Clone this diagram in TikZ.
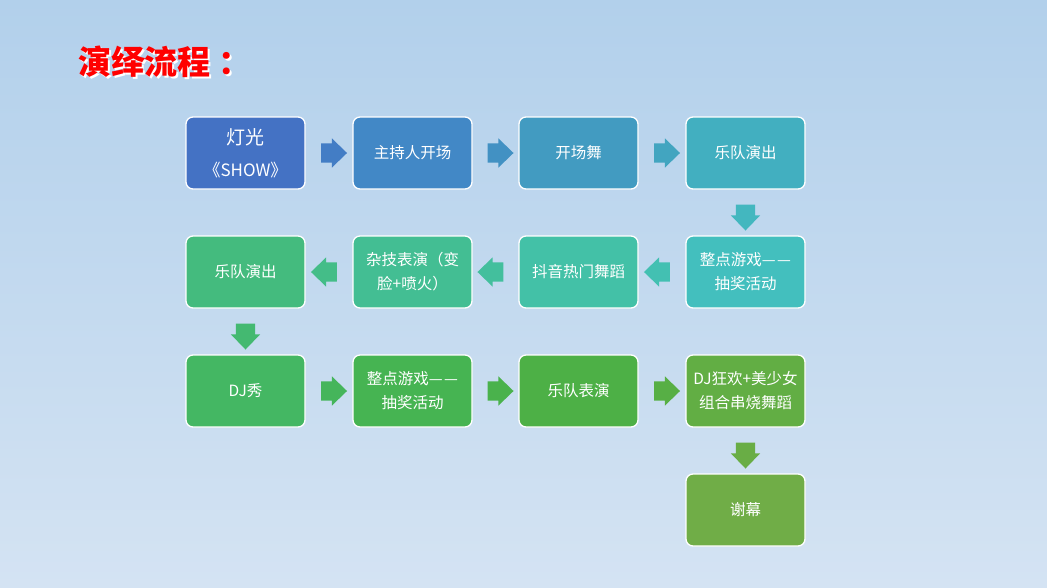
\documentclass[tikz,border=0pt]{standalone}
\usepackage{fontspec}
\newfontfamily\cjk{Noto Sans CJK SC}
\usetikzlibrary{shapes.arrows,calc}
\definecolor{bgtop}{RGB}{178,208,235}
\definecolor{bgbot}{RGB}{212,227,243}
\definecolor{cA}{RGB}{68,114,196}
\definecolor{cB}{RGB}{66,136,198}
\definecolor{cC}{RGB}{66,155,193}
\definecolor{cD}{RGB}{66,175,192}
\definecolor{cE}{RGB}{67,191,190}
\definecolor{cF}{RGB}{67,193,167}
\definecolor{cG}{RGB}{67,190,147}
\definecolor{cH}{RGB}{68,187,126}
\definecolor{cI}{RGB}{68,183,99}
\definecolor{cJ}{RGB}{70,180,82}
\definecolor{cK}{RGB}{77,176,70}
\definecolor{cL}{RGB}{98,174,68}
\definecolor{cM}{RGB}{112,173,71}
\newcommand{\twodash}{—\kern1.5pt—}

\begin{document}
\begin{tikzpicture}[x=1pt,y=-1pt,
  box/.style={draw=white,line width=1.3pt,rounded corners=7pt,minimum width=119pt,minimum height=72pt,
    text=white,align=center,inner sep=2pt,font=\cjk\fontsize{15.5}{24}\selectfont},
  blockarr/.style={single arrow,draw=none,inner xsep=0pt,inner ysep=9.5pt,minimum height=26pt,
    single arrow head extend=5pt,single arrow tip angle=88}]
\shade[top color=bgtop,bottom color=bgbot] (0,0) rectangle (1047,587);
\useasboundingbox (0,0) rectangle (1047,587);
% title
\node[anchor=west,text=white,font=\cjk\bfseries\fontsize{33}{33}\selectfont] (shadow) at (76.5,63.5) {演绎流程\kern8pt：};
\node[anchor=west,text=red,font=\cjk\bfseries\fontsize{33}{33}\selectfont] (title) at (75,62) {演绎流程\kern8pt：};
% row 1
\node[box,fill=cA] (b1) at (245.5,153) {{\fontsize{19}{22}\selectfont 灯光}\\[8pt]{\fontsize{17}{20}\selectfont 《SHOW》}};
\node[box,fill=cB] (b2) at (412.5,153) {主持人开场};
\node[box,fill=cC] (b3) at (578.5,153) {开场舞};
\node[box,fill=cD] (b4) at (745.5,153) {乐队演出};
% row 2
\node[box,fill=cE] (b5) at (745.5,272) {整点游戏\twodash\\抽奖活动};
\node[box,fill=cF] (b6) at (578.5,272) {抖音热门舞蹈};
\node[box,fill=cG] (b7) at (412.5,272) {杂技表演（变\\脸+喷火）};
\node[box,fill=cH] (b8) at (245.5,272) {乐队演出};
% row 3
\node[box,fill=cI] (b9) at (245.5,391) {DJ秀};
\node[box,fill=cJ] (b10) at (412.5,391) {整点游戏\twodash\\抽奖活动};
\node[box,fill=cK] (b11) at (578.5,391) {乐队表演};
\node[box,fill=cL] (b12) at (745.5,391) {DJ狂欢+美少女\\组合串烧舞蹈};
% row 4
\node[box,fill=cM] (b13) at (745.5,510) {谢幕};
% arrows
\node[blockarr,fill=cA!50!cB] (a1) at ($(b1.east)!0.5!(b2.west)$) {};
\node[blockarr,fill=cB!50!cC] (a2) at ($(b2.east)!0.5!(b3.west)$) {};
\node[blockarr,fill=cC!50!cD] (a3) at ($(b3.east)!0.5!(b4.west)$) {};
\node[blockarr,fill=cD!50!cE,rotate=-90] (a4) at ($(b4.south)!0.5!(b5.north)$) {};
\node[blockarr,fill=cE!50!cF,rotate=180] (a5) at ($(b5.west)!0.5!(b6.east)$) {};
\node[blockarr,fill=cF!50!cG,rotate=180] (a6) at ($(b6.west)!0.5!(b7.east)$) {};
\node[blockarr,fill=cG!50!cH,rotate=180] (a7) at ($(b7.west)!0.5!(b8.east)$) {};
\node[blockarr,fill=cH!50!cI,rotate=-90] (a8) at ($(b8.south)!0.5!(b9.north)$) {};
\node[blockarr,fill=cI!50!cJ] (a9) at ($(b9.east)!0.5!(b10.west)$) {};
\node[blockarr,fill=cJ!50!cK] (a10) at ($(b10.east)!0.5!(b11.west)$) {};
\node[blockarr,fill=cK!50!cL] (a11) at ($(b11.east)!0.5!(b12.west)$) {};
\node[blockarr,fill=cL!50!cM,rotate=-90] (a12) at ($(b12.south)!0.5!(b13.north)$) {};
\end{tikzpicture}
\end{document}
